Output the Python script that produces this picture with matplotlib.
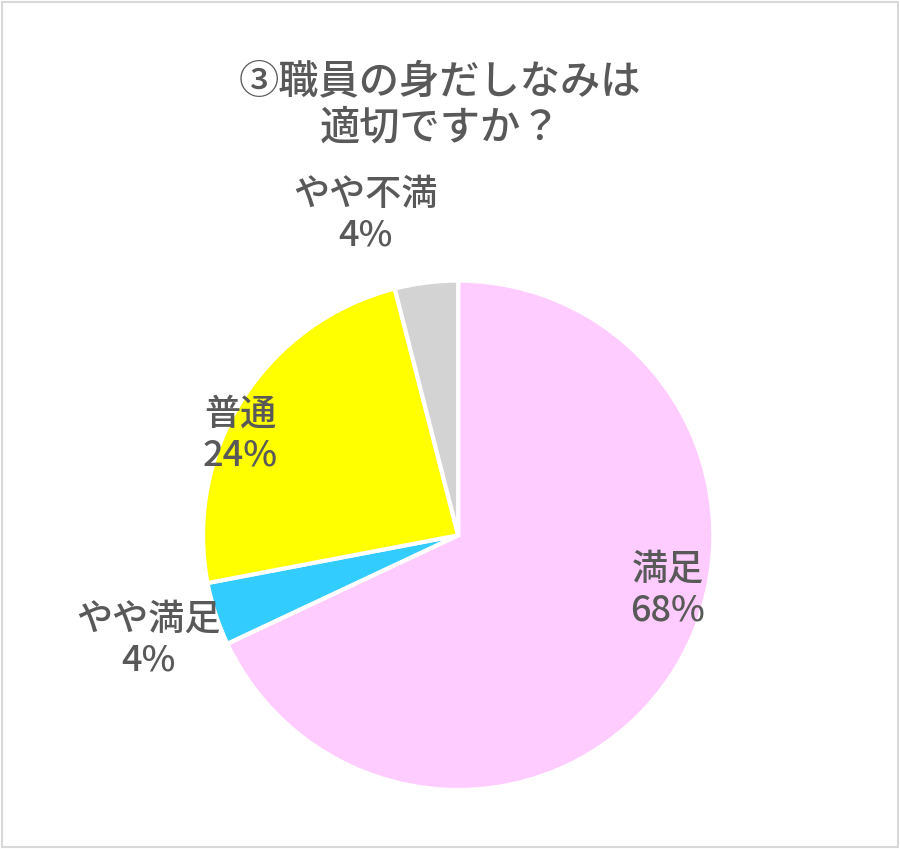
import matplotlib.pyplot as plt
from matplotlib.patches import Rectangle

plt.rcParams['font.family'] = ['Noto Sans CJK JP', 'DejaVu Sans']

labels = ['満足', 'やや満足', '普通', 'やや不満']
values = [68, 4, 24, 4]
colors = ['#FFCCFF', '#33CCFF', '#FFFF00', '#D3D3D3']
# label positions in figure pixels (x, y from top)
label_pos = [(668, 590), (148, 640), (240, 435), (365, 215)]

fig = plt.figure(figsize=(9, 8.49), dpi=100)
fig.patches.append(Rectangle((0.002, 0.002), 0.996, 0.996, transform=fig.transFigure,
                             fill=False, edgecolor='#D9D9D9', linewidth=1.5))

ax = fig.add_axes([0.2256, 0.0695, 0.567, 0.6])
ax.pie(values, colors=colors, startangle=90, counterclock=False,
       wedgeprops=dict(edgecolor='white', linewidth=3))
ax.set_xlim(-1.0, 1.0)
ax.set_ylim(-1.0, 1.0)
ax.set_aspect('auto')
ax.axis('off')

for lab, v, (px, py) in zip(labels, values, label_pos):
    fig.text(px / 900, 1 - py / 849, f'{lab}\n{v}%', ha='center', va='center',
             fontsize=26, color='#595959', linespacing=1.15, fontweight='medium')

fig.text(440 / 900, 1 - 105 / 849, '③職員の身だしなみは\n適切ですか？', ha='center', va='center',
         fontsize=29, color='#595959', linespacing=1.15, fontweight='medium')

fig.savefig('out.png', dpi=100)
